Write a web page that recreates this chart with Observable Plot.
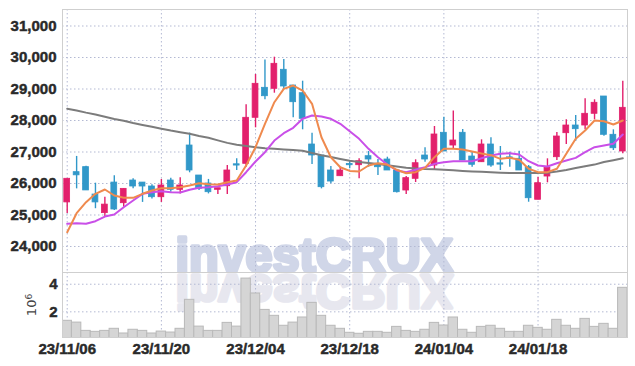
<!DOCTYPE html>
<html><head><meta charset="utf-8">
<script src="https://cdn.jsdelivr.net/npm/d3@7"></script>
<script src="https://cdn.jsdelivr.net/npm/@observablehq/plot@0.6"></script>
<style>
html,body{margin:0;padding:0;background:#fff;}
#chart{position:relative;width:635px;height:366px;background:#fff;}
#chart svg{position:absolute;left:0;}
</style></head><body><div id="chart"></div>
<script>
// ---- data ----
const tickIdx = [0, 10, 20, 30, 40, 50];
const tickLabels = ["23/11/06", "23/11/20", "23/12/04", "23/12/18", "24/01/04", "24/01/18"];
const priceTicks = [24000, 25000, 26000, 27000, 28000, 29000, 30000, 31000];
const volTicks = [2e6, 4e6];

const open  = [25400,26360,26520,25650,25060,26030,25375,26095,26030,25905,25565,26095,25800,27206,26254,26000,25800,25914,26610,26625,
               28086,29038,29006,29610,29111,28867,27238,26889,26413,26232,26620,26581,26867,26625,26762,26413,25778,26149,26889,26571,
               27610,27206,27610,26857,26676,27238,26640,26830,26784,26517,25483,26222,26835,27597,27841,27841,28213,28762,27546,27016];
const high  = [26150,26860,26550,26010,25560,26250,25830,26150,26030,25960,26130,26170,26180,27600,26254,26130,25850,26571,26784,28500,
               29460,29920,30010,29937,29111,29248,27597,26889,26540,26517,26720,26784,27016,26762,26835,26413,26222,26752,27133,27810,
               28105,28302,27714,26994,27387,27450,27175,26994,27025,26571,26200,26784,27619,28022,28159,28689,28657,28762,27705,29248];
const low   = [25050,25830,25780,25200,24930,25140,25250,25830,25400,25510,25400,25720,25670,26340,25780,25670,25650,25651,26413,26517,
               27768,28657,28867,28975,28086,27705,26603,25830,25990,26232,26470,26149,26517,26254,26413,25700,25651,26032,26676,26435,
               27016,27100,26730,26517,26676,26517,26413,26517,26413,25406,25483,26022,26730,27238,27343,27705,28022,27502,27048,26943];
const close = [26150,26260,25780,25400,25330,25175,25830,25905,25905,25565,25937,25800,25937,26413,25832,25724,25850,26413,26570,28086,
               29165,28771,29800,29080,28581,28054,26889,25883,26063,26413,26580,26708,26762,26517,26413,25724,26170,26644,26762,27556,
               27016,27365,26730,26594,27238,26571,26600,26790,26413,25533,26010,26498,27492,27841,27724,28213,28562,27546,27120,28403];
const volume = [1.35,1.22,0.62,0.55,0.62,0.77,0.43,0.70,0.62,0.43,0.57,0.50,0.77,2.87,0.93,0.62,0.62,1.20,0.93,4.41,
                3.33,2.14,1.71,0.99,1.22,1.59,2.65,1.71,0.99,0.77,0.48,0.41,0.55,0.55,0.48,0.91,0.62,0.55,0.70,1.20,
                1.01,1.59,0.70,0.48,0.91,0.99,0.77,0.55,0.55,0.99,0.84,0.70,1.42,0.99,0.77,1.49,0.91,1.13,0.77,3.74].map(v => v * 1e6);
const ma5  = [24454,25057,25406,25673,25810,25619,25546,25546,25673,25778,25850,25850,25883,25937,26010,25980,25968,26042,26095,26571,
              27153,27895,28581,29006,29111,28952,28530,27470,26835,26517,26400,26381,26571,26644,26603,26435,26327,26359,26498,26835,
              27100,27100,27079,27016,26950,26900,26784,26815,26752,26467,26360,26360,26467,26943,27419,27683,28000,27978,27873,28000];
const ma20 = [24720,24740,24720,24804,24952,25016,25248,25460,25673,25724,25756,25724,25714,25800,25863,25883,25914,25968,26042,26359,
              26698,26994,27365,27597,27768,28054,28159,28127,28054,27895,27660,27419,27100,26835,26603,26413,26359,26435,26517,26625,
              26676,26708,26708,26708,26803,26889,26943,26962,26921,26708,26571,26540,26644,26730,26815,26994,27153,27206,27260,27556];
const ma60 = [28375,28320,28250,28190,28120,28050,27990,27920,27860,27800,27740,27680,27630,27580,27510,27450,27370,27290,27230,27190,
              27150,27120,27100,27080,27060,27040,26970,26900,26840,26780,26720,26680,26650,26620,26580,26540,26500,26480,26460,26450,
              26440,26420,26400,26385,26370,26355,26345,26335,26330,26330,26335,26340,26380,26430,26490,26550,26600,26680,26740,26800];

// ---- build ----
const idx = d3.range(open.length);
const candles = idx.map(i => ({i, open: open[i], high: high[i], low: low[i], close: close[i]}));
const vols = idx.map(i => ({i, v: volume[i]}));
const RED = "#e2206c", BLUE = "#3198c9";
const col = d => d.close >= d.open ? RED : BLUE;
const gridStyle = {stroke: "#b3b9d3", strokeOpacity: 1, strokeDasharray: "1.5,2.5"};
const baseStyle = {fontFamily: "'Liberation Sans Narrow','Liberation Sans',sans-serif", fontSize: "15px", fontWeight: "bold", color: "#2a2a2a", background: "transparent"};
const WM = "investCRUX";
const wmStyle = {text: d => d, textAnchor: "start", lineAnchor: "bottom", fontSize: 48.5, fontWeight: "bold",
  fontFamily: "'Liberation Sans',sans-serif", strokeWidth: 3.5, strokeLinejoin: "round"};
const xScale = {type: "band", domain: idx, padding: 0, round: false, axis: null};

const price = Plot.plot({
  width: 635, height: 272, marginTop: 9, marginBottom: 0, marginLeft: 62, marginRight: 8,
  style: baseStyle,
  x: xScale,
  y: {domain: [23175, 31524], axis: null},
  marks: [
    Plot.text([WM], {...wmStyle, frameAnchor: "bottom-left", dx: 113, dy: -0.5, fill: "#d0d6e8", stroke: "#d0d6e8"}),
    Plot.gridX(tickIdx, {x: d => d, ...gridStyle}),
    Plot.gridY(priceTicks, {y: d => d, ...gridStyle}),
    Plot.frame({stroke: "#cfcfcf"}),
    Plot.axisY(priceTicks, {tickSize: 0, tickPadding: 6, tickFormat: d3.format(","), label: null, fontWeight: "bold"}),
    Plot.ruleX(candles, {x: "i", y1: "low", y2: "high", stroke: col, strokeWidth: 1.4}),
    Plot.barY(candles, {x: "i", y1: "open", y2: "close", fill: col, stroke: col, strokeWidth: 0.8, insetLeft: 1.8, insetRight: 1.8}),
    Plot.line(idx, {x: i => i, y: i => ma60[i], stroke: "#7c7c7c", strokeWidth: 2}),
    Plot.line(idx, {x: i => i, y: i => ma20[i], stroke: "#c94fe8", strokeWidth: 2}),
    Plot.line(idx, {x: i => i, y: i => ma5[i], stroke: "#ef8a4e", strokeWidth: 2})
  ]
});

const vol = Plot.plot({
  width: 635, height: 94, marginTop: 0, marginBottom: 29, marginLeft: 62, marginRight: 8,
  style: baseStyle,
  x: xScale,
  y: {domain: [0.14e6, 4.85e6], axis: null},
  marks: [
    Plot.text([WM], {...wmStyle, frameAnchor: "top-left", dx: 113, dy: 2.3, fill: "#e7e7ef", stroke: "#e7e7ef"}),
    Plot.gridX(tickIdx, {x: d => d, ...gridStyle}),
    Plot.gridY(volTicks, {y: d => d, ...gridStyle}),
    Plot.barY(vols, {x: "i", y1: 0, y2: "v", fill: "#d5d5d5", stroke: "#b9b9b9", strokeWidth: 1, clip: true}),
    Plot.frame({stroke: "#cfcfcf"}),
    Plot.axisY(volTicks, {tickSize: 0, tickPadding: 5, tickFormat: d => d / 1e6, label: "10⁶", labelArrow: "none", labelAnchor: "center", labelOffset: 36, fontWeight: "bold"}),
    Plot.axisX(tickIdx, {tickSize: 0, tickPadding: 6, tickFormat: i => tickLabels[tickIdx.indexOf(i)], label: null, fontWeight: "bold"})
  ]
});

const chart = document.getElementById("chart");
price.style.top = "0px";
vol.style.top = "272px";
chart.appendChild(price);
chart.appendChild(vol);

// heavier tick labels, like the reference's bold condensed face
for (const svg of [price, vol]) {
  svg.querySelectorAll('g[aria-label$="tick label"]').forEach(g => {
    g.setAttribute("font-weight", "bold");
    g.setAttribute("stroke", "#2a2a2a");
    g.setAttribute("stroke-width", "0.45");
  });
}

// mirror the watermark in the volume panel (reflection)
const wm = vol.querySelector('g[aria-label="text"] text');
if (wm) {
  let tr = wm.getAttribute("transform");
  if (tr) wm.setAttribute("transform", tr + " scale(1,-1)");
  else {
    const x = +(wm.getAttribute("x") || 0), y = +(wm.getAttribute("y") || 0);
    wm.removeAttribute("x"); wm.removeAttribute("y");
    wm.setAttribute("transform", `translate(${x},${y}) scale(1,-1)`);
  }
}
// the 10^6 unit label: "10" with a raised "6"
const lab = vol.querySelector('g[aria-label="y-axis label"]');
if (lab) {
  lab.setAttribute("font-weight", "normal");
  lab.setAttribute("font-family", "'DejaVu Sans',sans-serif");
  lab.setAttribute("font-size", "13");
  lab.setAttribute("fill", "#444");
  const t = lab.querySelector("text");
  if (t) {
    t.textContent = "10";
    const s = document.createElementNS("http://www.w3.org/2000/svg", "tspan");
    s.setAttribute("dy", "-0.45em");
    s.setAttribute("font-size", "9");
    s.textContent = "6";
    t.appendChild(s);
  }
}
</script></body></html>
